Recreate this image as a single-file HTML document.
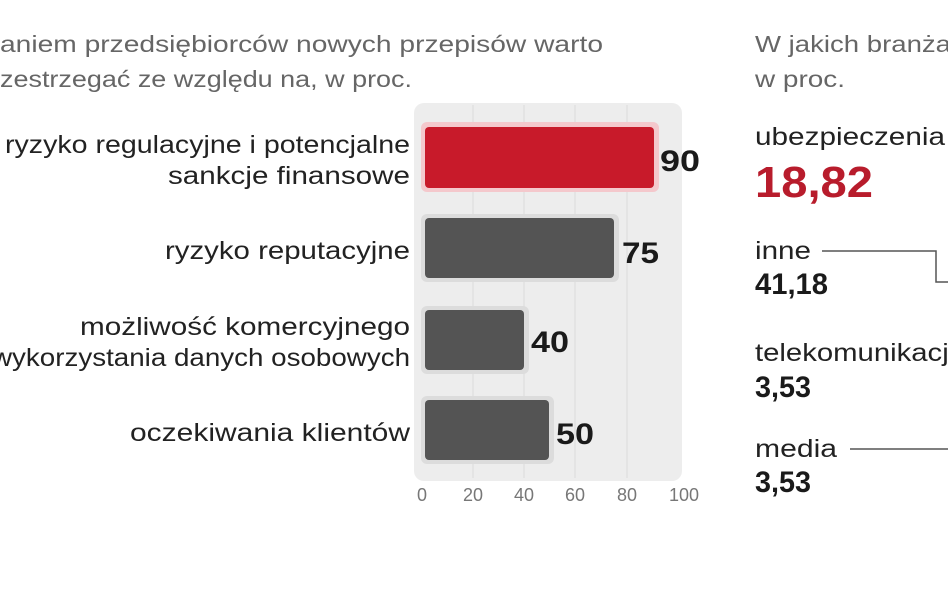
<!DOCTYPE html>
<html><head><meta charset="utf-8"><style>
html,body{margin:0;padding:0;background:#fff;width:948px;height:593px;overflow:hidden}
svg{display:block}
text{font-family:"Liberation Sans",sans-serif}
</style></head><body>
<svg width="948" height="593" viewBox="0 0 948 593">
<text x="0" y="52" font-size="23" fill="#666" textLength="603" lengthAdjust="spacingAndGlyphs">aniem przedsiębiorców nowych przepisów warto</text>
<text x="0" y="87" font-size="23" fill="#666" textLength="412" lengthAdjust="spacingAndGlyphs">zestrzegać ze względu na, w proc.</text>
<rect x="414" y="103" width="268" height="378" rx="10" fill="#ededed"/>
<g stroke="#dcdcdc" stroke-width="1">
<line x1="473" y1="105" x2="473" y2="478"/><line x1="524" y1="105" x2="524" y2="478"/>
<line x1="575" y1="105" x2="575" y2="478"/><line x1="627" y1="105" x2="627" y2="478"/>
</g>
<rect x="421" y="122" width="238" height="70" rx="6" fill="#f4c8cc"/>
<rect x="425" y="127" width="229" height="61" rx="4" fill="#c81a2a"/>
<rect x="421" y="214" width="198" height="68" rx="6" fill="#dcdcdc"/>
<rect x="425" y="218" width="189" height="60" rx="4" fill="#545454"/>
<rect x="421" y="306" width="108" height="68" rx="6" fill="#dcdcdc"/>
<rect x="425" y="310" width="99" height="60" rx="4" fill="#545454"/>
<rect x="421" y="396" width="133" height="68" rx="6" fill="#dcdcdc"/>
<rect x="425" y="400" width="124" height="60" rx="4" fill="#545454"/>
<g font-size="30" font-weight="bold" fill="#1a1a1a">
<text x="660" y="171" textLength="40" lengthAdjust="spacingAndGlyphs">90</text>
<text x="622" y="263" textLength="37" lengthAdjust="spacingAndGlyphs">75</text>
<text x="531" y="352" textLength="38" lengthAdjust="spacingAndGlyphs">40</text>
<text x="556" y="444" textLength="38" lengthAdjust="spacingAndGlyphs">50</text>
</g>
<g font-size="25" fill="#222" text-anchor="end" lengthAdjust="spacingAndGlyphs">
<text x="410" y="153" textLength="405" lengthAdjust="spacingAndGlyphs">ryzyko regulacyjne i potencjalne</text>
<text x="410" y="184" textLength="242" lengthAdjust="spacingAndGlyphs">sankcje finansowe</text>
<text x="410" y="259" textLength="245" lengthAdjust="spacingAndGlyphs">ryzyko reputacyjne</text>
<text x="410" y="335" textLength="330" lengthAdjust="spacingAndGlyphs">możliwość komercyjnego</text>
<text x="410" y="366" textLength="418" lengthAdjust="spacingAndGlyphs">wykorzystania danych osobowych</text>
<text x="410" y="441" textLength="280" lengthAdjust="spacingAndGlyphs">oczekiwania klientów</text>
</g>
<g font-size="18" fill="#777" text-anchor="middle">
<text x="422" y="501">0</text><text x="473" y="501">20</text><text x="524" y="501">40</text>
<text x="575" y="501">60</text><text x="627" y="501">80</text><text x="684" y="501">100</text>
</g>
<text x="755" y="52" font-size="23" fill="#666" textLength="196" lengthAdjust="spacingAndGlyphs">W jakich branża</text>
<text x="755" y="87" font-size="23" fill="#666" textLength="90" lengthAdjust="spacingAndGlyphs">w proc.</text>
<text x="755" y="145" font-size="25" fill="#222" textLength="190" lengthAdjust="spacingAndGlyphs">ubezpieczenia</text>
<text x="755" y="197" font-size="44" font-weight="bold" fill="#b81c2c" textLength="118" lengthAdjust="spacingAndGlyphs">18,82</text>
<text x="755" y="259" font-size="25" fill="#222" textLength="56" lengthAdjust="spacingAndGlyphs">inne</text>
<polyline points="822,251 936,251 936,282 948,282" fill="none" stroke="#555" stroke-width="1.5"/>
<text x="755" y="294" font-size="30" font-weight="bold" fill="#1a1a1a" textLength="73" lengthAdjust="spacingAndGlyphs">41,18</text>
<text x="755" y="361" font-size="25" fill="#222" textLength="210" lengthAdjust="spacingAndGlyphs">telekomunikacje</text>
<text x="755" y="397" font-size="30" font-weight="bold" fill="#1a1a1a" textLength="56" lengthAdjust="spacingAndGlyphs">3,53</text>
<text x="755" y="457" font-size="25" fill="#222" textLength="82" lengthAdjust="spacingAndGlyphs">media</text>
<line x1="850" y1="449" x2="948" y2="449" stroke="#555" stroke-width="1.5"/>
<text x="755" y="492" font-size="30" font-weight="bold" fill="#1a1a1a" textLength="56" lengthAdjust="spacingAndGlyphs">3,53</text>
</svg>
</body></html>
